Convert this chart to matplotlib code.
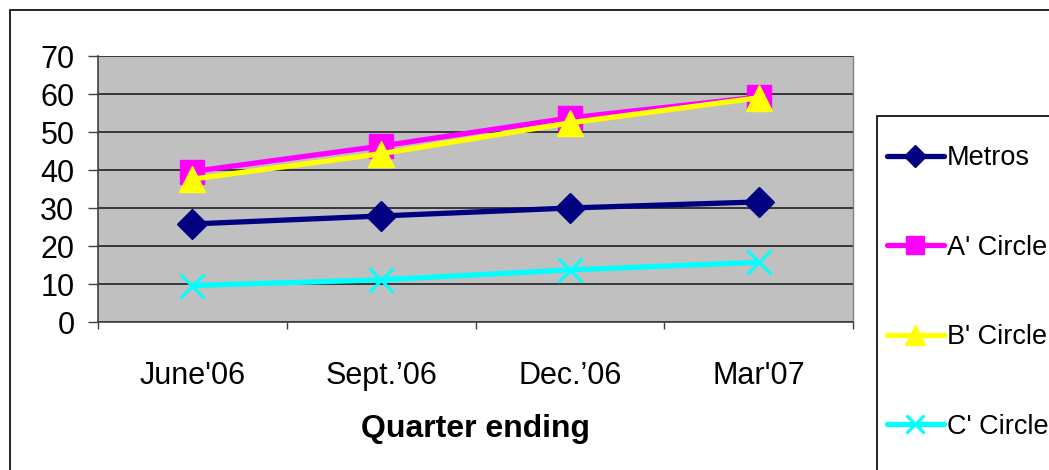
import matplotlib.pyplot as plt
from matplotlib.patches import Rectangle
from matplotlib.transforms import blended_transform_factory, offset_copy

plt.rcParams['font.family'] = ['Liberation Sans', 'DejaVu Sans']

quarters = ["June'06", "Sept.\u201906", "Dec.\u201906", "Mar'07"]
metros = [25.8, 27.9, 30.0, 31.6]
a_circle = [39.6, 46.3, 53.7, 59.2]
b_circle = [37.6, 44.3, 52.4, 59.0]
c_circle = [9.6, 11.1, 13.7, 15.7]

series = [
    ("Metros", metros, "#000080", "D", 15),
    ("A' Circle", a_circle, "#FF00FF", "s", 17),
    ("B' Circle", b_circle, "#FFFF00", "^", 19),
    ("C' Circle", c_circle, "#00FFFF", "x", 17),
]

fig = plt.figure(figsize=(10.49, 4.70), dpi=100)
ax = fig.add_axes([98/1049, 1 - 322/470, (853 - 98)/1049, (322 - 56)/470])
ax.set_facecolor("#C0C0C0")

x = list(range(len(quarters)))
for name, vals, col, mk, ms in series:
    if mk == "x":
        ax.plot(x, vals, color=col, lw=3.8, marker=mk, ms=ms, mew=2.2,
                label=name, solid_capstyle="round", clip_on=False, zorder=3)
    else:
        ax.plot(x, vals, color=col, lw=3.8, marker=mk, ms=ms, mec=col,
                label=name, solid_capstyle="round", clip_on=False, zorder=3)

ax.set_xlim(-0.5, 3.5)
ax.set_ylim(0, 70)
ax.set_yticks(range(0, 71, 10))
ax.yaxis.grid(True, color="#202020", lw=1.2)
ax.set_axisbelow(True)
ax.set_xticks([-0.5, 0.5, 1.5, 2.5, 3.5])
ax.set_xticklabels([])
ax.tick_params(axis="x", which="major", length=5, width=1, color="#404040")
ax.tick_params(axis="y", length=7, width=1, color="#404040", pad=10, labelsize=22)

# category labels, baseline aligned like the original
trans = offset_copy(blended_transform_factory(ax.transData, ax.transAxes),
                    fig=fig, y=-62, units="dots")
for xi, q in zip(x, quarters):
    ax.text(xi, 0, q, transform=trans, ha="center", va="baseline", fontsize=22)

for s in ["top", "right"]:
    ax.spines[s].set_visible(False)
for s in ["left", "bottom"]:
    ax.spines[s].set_color("#404040")
    ax.spines[s].set_linewidth(1.2)
ax.plot([1, 1], [0, 1], transform=ax.transAxes, color="#808080", lw=1, clip_on=False)
ax.set_xlabel("Quarter ending", fontsize=23, fontweight="bold", labelpad=58)

# outer chart frame and legend box
fig.patches.append(Rectangle((10/1049, -0.1), 1.2, 1 - 10/470 + 0.1,
                             transform=fig.transFigure, fill=False,
                             edgecolor="black", lw=1.2))
fig.patches.append(Rectangle((877/1049, -0.1), 0.3, 1 - 116/470 + 0.1,
                             transform=fig.transFigure, fill=False,
                             edgecolor="black", lw=1.2))

leg = ax.legend(loc="center left", bbox_to_anchor=(887/1049, 1 - 292.5/470),
                bbox_transform=fig.transFigure, frameon=False, fontsize=19.5,
                labelspacing=2.34, handlelength=2.1, handletextpad=0.1,
                borderpad=0, borderaxespad=0, markerscale=0.75)

fig.savefig("out.png", dpi=100)
